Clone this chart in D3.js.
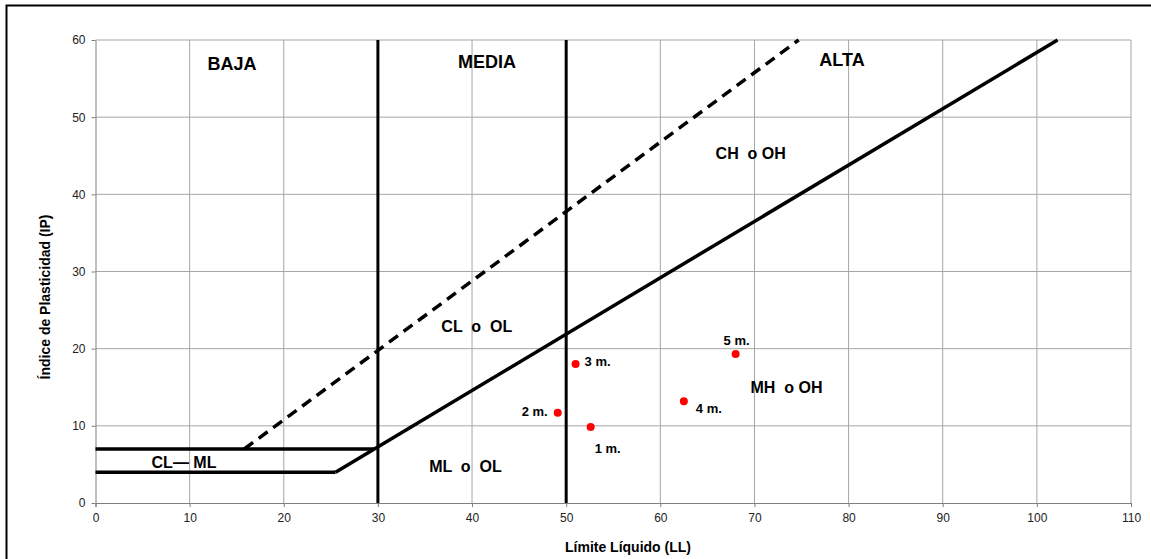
<!DOCTYPE html>
<html>
<head>
<meta charset="utf-8">
<script src="https://cdnjs.cloudflare.com/ajax/libs/d3/7.8.5/d3.min.js"></script>
<style>
  body { margin: 0; background: #fff; }
  svg { display: block; font-family: "Liberation Sans", Arial, sans-serif; }
  .grid line { stroke: #a6a6a6; stroke-width: 1; }
  .axis path, .axis line { stroke: #7f7f7f; }
  .axis text { fill: #222; font-size: 12px; }
  .zone { font-weight: bold; fill: #000; white-space: pre; }
</style>
</head>
<body>
<svg width="1151" height="559"></svg>
<script>
// samples (LL, IP)
var sampleNames = ["1 m.", "2 m.", "3 m.", "4 m.", "5 m."];
var sampleLL = [52.6, 49.1, 51.0, 62.5, 68.0];
var sampleIP = [9.85, 11.7, 18.0, 13.2, 19.3];

var xTicks = [0, 10, 20, 30, 40, 50, 60, 70, 80, 90, 100, 110];
var yTicks = [0, 10, 20, 30, 40, 50, 60];

// chart boundaries
var lineA = [[25.5, 4], [102.2, 60]];        // IP = 0.73(LL-20)
var lineU = [[15.8, 7], [74.7, 60]];         // IP = 0.9(LL-8)
var lineCL = [[0, 7], [29.6, 7]];
var lineML = [[0, 4], [25.5, 4]];
var divisions = [30, 50];

var zoneLabels = [
  { text: "BAJA", x: 14.5, y: 56.1, size: 18 },
  { text: "MEDIA", x: 41.6, y: 56.4, size: 18 },
  { text: "ALTA", x: 79.3, y: 56.6, size: 18 },
  { text: "CH  o OH", x: 69.6, y: 44.6, size: 16 },
  { text: "CL  o  OL", x: 40.5, y: 22.2, size: 16 },
  { text: "ML  o  OL", x: 39.3, y: 4.0, size: 16 },
  { text: "MH  o OH", x: 73.4, y: 14.25, size: 16 },
  { text: "CL\u2014 ML", x: 9.4, y: 4.5, size: 16 }
];
var labelDx = [4, -10, 9, 12, 1];
var labelDy = [26, 3, 2, 12, -9];
var labelAnchor = ["start", "end", "start", "start", "middle"];

var svg = d3.select("svg"),
  margin = { top: 40, right: 20, bottom: 56, left: 95.5 },
  width = 1131 - margin.left,
  height = 503 - margin.top;

svg.append("rect")
  .attr("x", 6.5).attr("y", 5.5)
  .attr("width", 1160).attr("height", 580)
  .attr("fill", "none").attr("stroke", "#000").attr("stroke-width", 2);

var x = d3.scaleLinear().domain([0, 110]).range([0, width]),
  y = d3.scaleLinear().domain([0, 60]).range([height, 0]);

var g = svg.append("g")
  .attr("transform", "translate(" + margin.left + "," + margin.top + ")");

// grid
var grid = g.append("g").attr("class", "grid");
grid.selectAll(".gx").data(xTicks.slice(1)).enter().append("line")
  .attr("x1", function (d) { return x(d); }).attr("x2", function (d) { return x(d); })
  .attr("y1", 0).attr("y2", height);
grid.selectAll(".gy").data(yTicks.slice(1)).enter().append("line")
  .attr("x1", 0).attr("x2", width)
  .attr("y1", function (d) { return y(d); }).attr("y2", function (d) { return y(d); });

g.append("g")
  .attr("class", "axis axis--x")
  .attr("transform", "translate(0," + height + ")")
  .call(d3.axisBottom(x).tickValues(xTicks).tickSize(4).tickSizeOuter(4).tickPadding(6));

g.append("g")
  .attr("class", "axis axis--y")
  .call(d3.axisLeft(y).tickValues(yTicks).tickSize(4).tickSizeOuter(0).tickPadding(6));

var line = d3.line()
  .x(function (d) { return x(d[0]); })
  .y(function (d) { return y(d[1]); });

// divisions baja/media/alta
g.selectAll(".div").data(divisions).enter().append("line")
  .attr("x1", function (d) { return x(d); }).attr("x2", function (d) { return x(d); })
  .attr("y1", 0).attr("y2", height)
  .attr("stroke", "#000").attr("stroke-width", 3);

[lineA, lineCL, lineML].forEach(function (p) {
  g.append("path").attr("d", line(p))
    .attr("fill", "none").attr("stroke", "#000").attr("stroke-width", 3.5);
});
g.append("path").attr("d", line(lineU))
  .attr("fill", "none").attr("stroke", "#000").attr("stroke-width", 3.5)
  .attr("stroke-dasharray", "11,7");

g.selectAll(".zone").data(zoneLabels).enter().append("text")
  .attr("class", "zone")
  .attr("x", function (d) { return x(d.x); })
  .attr("y", function (d) { return y(d.y); })
  .attr("text-anchor", "middle")
  .style("font-size", function (d) { return d.size + "px"; })
  .text(function (d) { return d.text; });

var samples = sampleNames.map(function (n, i) {
  return { name: n, ll: sampleLL[i], ip: sampleIP[i], dx: labelDx[i], dy: labelDy[i], anchor: labelAnchor[i] };
});

g.selectAll(".dot").data(samples).enter().append("circle")
  .attr("cx", function (d) { return x(d.ll); })
  .attr("cy", function (d) { return y(d.ip); })
  .attr("r", 4).attr("fill", "#ff0000");

g.selectAll(".lbl").data(samples).enter().append("text")
  .attr("x", function (d) { return x(d.ll) + d.dx; })
  .attr("y", function (d) { return y(d.ip) + d.dy; })
  .attr("text-anchor", function (d) { return d.anchor; })
  .style("font-size", "13px").style("font-weight", "bold")
  .text(function (d) { return d.name; });

svg.append("text")
  .attr("x", 628).attr("y", 552)
  .attr("text-anchor", "middle")
  .style("font-size", "14px").style("font-weight", "bold")
  .text("Límite Líquido (LL)");

svg.append("text")
  .attr("transform", "translate(50," + 297 + ") rotate(-90)")
  .attr("text-anchor", "middle")
  .style("font-size", "14px").style("font-weight", "bold")
  .text("Índice de Plasticidad (IP)");
</script>
</body>
</html>
